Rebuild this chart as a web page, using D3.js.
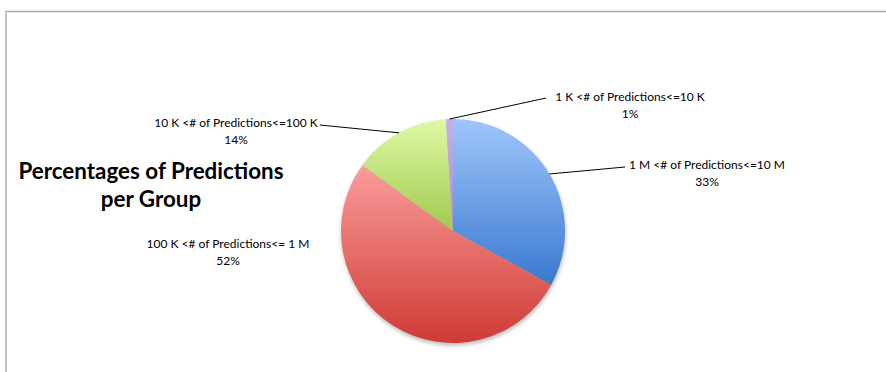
<!DOCTYPE html>
<html>
<head>
<meta charset="utf-8">
<script src="https://cdn.jsdelivr.net/npm/d3@7/dist/d3.min.js"></script>
<style>
  html, body { margin: 0; padding: 0; background: #fff; }
  svg { display: block; }
</style>
</head>
<body>
<svg id="chart" width="886" height="372"></svg>
<script>
// Prediction-count groups, clockwise from 12 o'clock
const groups = [
  "1 M <# of Predictions<=10 M",
  "100 K <# of Predictions<= 1 M",
  "10 K <# of Predictions<=100 K",
  "1 K <# of Predictions<=10 K"
];
const percents = [33, 52, 14, 1];
const gradTop = ["#a0c6fb", "#fa9d9b", "#def8a6", "#c4b0e8"];
const gradBottom = ["#3a79cf", "#cf3a34", "#a0ca4c", "#a890d8"];
const titleLines = ["Percentages of Predictions", "per Group"];

const svg = d3.select("#chart");
const W = 886, H = 372;
const cx = 453, cy = 231, R = 112;

// frame
svg.append("line").attr("x1", 5).attr("x2", W).attr("y1", 11.5).attr("y2", 11.5)
  .attr("stroke", "#a9a9a9").attr("stroke-width", 1.5);
svg.append("line").attr("x1", 6).attr("x2", 6).attr("y1", 11).attr("y2", H)
  .attr("stroke", "#c4c4c4").attr("stroke-width", 2);

const defs = svg.append("defs");
const shadow = defs.append("filter").attr("id", "pieShadow")
  .attr("x", "-20%").attr("y", "-20%").attr("width", "140%").attr("height", "140%");
shadow.append("feGaussianBlur").attr("stdDeviation", 2.2);

percents.forEach((p, i) => {
  const g = defs.append("linearGradient").attr("id", "grad" + i)
    .attr("x1", 0).attr("y1", 0).attr("x2", 0).attr("y2", 1);
  g.append("stop").attr("offset", "0%").attr("stop-color", gradTop[i]);
  g.append("stop").attr("offset", "100%").attr("stop-color", gradBottom[i]);
});

const pie = d3.pie().sort(null).value(d => d)(percents);
const arc = d3.arc().innerRadius(0).outerRadius(R);

const gPie = svg.append("g").attr("transform", `translate(${cx},${cy})`);
gPie.append("circle").attr("cx", 0.5).attr("cy", 2.5).attr("r", R)
  .attr("fill", "#000").attr("opacity", 0.28).attr("filter", "url(#pieShadow)");
gPie.selectAll("path.slice").data(pie).enter().append("path")
  .attr("class", "slice")
  .attr("d", arc)
  .attr("fill", (d, i) => `url(#grad${i})`);

// label placement: center of text block and leader line end
const labelPos = [
  { x: 707, y: 165, line: [625, 167] },
  { x: 228, y: 244, line: null },
  { x: 236, y: 123, line: [320, 125] },
  { x: 630, y: 97, line: [546, 98] }
];

pie.forEach((d, i) => {
  const lp = labelPos[i];
  if (lp.line) {
    const a = (d.startAngle + d.endAngle) / 2;
    const px = cx + Math.sin(a) * R, py = cy - Math.cos(a) * R;
    svg.append("line")
      .attr("x1", px).attr("y1", py)
      .attr("x2", lp.line[0]).attr("y2", lp.line[1])
      .attr("stroke", "#000").attr("stroke-width", 1);
  }
  const t = svg.append("text")
    .attr("text-anchor", "middle")
    .attr("font-family", "Lato, 'Open Sans', sans-serif")
    .attr("font-size", 12)
    .attr("fill", "#000");
  t.append("tspan").attr("x", lp.x).attr("y", lp.y + 4).text(groups[i]);
  t.append("tspan").attr("x", lp.x).attr("y", lp.y + 21).text(percents[i] + "%");
});

// title
const title = svg.append("text")
  .attr("text-anchor", "middle")
  .attr("font-family", "Lato, 'Open Sans', sans-serif")
  .attr("font-weight", "bold")
  .attr("font-size", 22.4)
  .attr("fill", "#000");
titleLines.forEach((s, i) => {
  title.append("tspan").attr("x", 151).attr("y", 179 + i * 28).text(s);
});
</script>
</body>
</html>
